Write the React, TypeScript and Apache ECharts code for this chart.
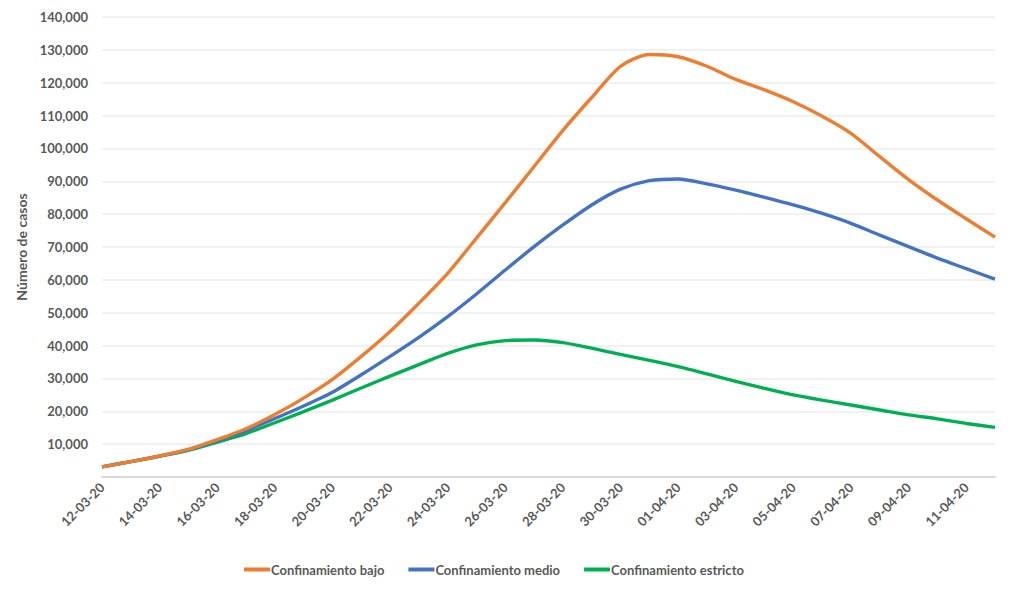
import React, { useEffect, useRef } from "react";
import * as echarts from "echarts";

const dates = [
  "12-03-20", "13-03-20", "14-03-20", "15-03-20", "16-03-20", "17-03-20", "18-03-20", "19-03-20",
  "20-03-20", "21-03-20", "22-03-20", "23-03-20", "24-03-20", "25-03-20", "26-03-20", "27-03-20",
  "28-03-20", "29-03-20", "30-03-20", "31-03-20", "01-04-20", "02-04-20", "03-04-20", "04-04-20",
  "05-04-20", "06-04-20", "07-04-20", "08-04-20", "09-04-20", "10-04-20", "11-04-20", "12-04-20",
];

const bajo = [
  3100, 4700, 6400, 8400, 11400, 14700, 19000, 24000, 29700, 36700, 44300, 52900, 62000, 72700, 83500, 94500,
  105500, 115500, 125000, 128600, 127900, 125000, 121000, 117800, 114200, 109800, 104600, 97500, 90500, 84300, 78600, 73000,
];

const medio = [
  3100, 4700, 6400, 8300, 11100, 14100, 17800, 21600, 25800, 31100, 36700, 42500, 48800, 55700, 63000, 70100,
  76700, 82800, 87600, 90200, 90700, 89200, 87300, 85100, 82800, 80200, 77200, 73600, 70100, 66600, 63400, 60200,
];

const estricto = [
  3100, 4700, 6300, 8100, 10600, 13200, 16500, 19900, 23400, 27100, 30700, 34200, 37600, 40200, 41500, 41700,
  40900, 39200, 37300, 35500, 33600, 31400, 29100, 27000, 25000, 23400, 21900, 20400, 18900, 17700, 16300, 15100,
];

const seriesNames = ["Confinamiento bajo", "Confinamiento medio", "Confinamiento estricto"];
const colors = ["#ED7D31", "#4472C4", "#00B050"];

const FONT = "Lato, 'Open Sans', sans-serif";
const TEXT = "#595959";

export default function App() {
  const ref = useRef<HTMLDivElement>(null);
  useEffect(() => {
    if (!ref.current) return;
    const chart = echarts.init(ref.current, null, { renderer: "svg" });
    const values = [bajo, medio, estricto];
    chart.setOption({
      animation: false,
      backgroundColor: "#ffffff",
      grid: { left: 102, right: 29, top: 17, bottom: 114, containLabel: false },
      legend: {
        left: 239,
        top: 558,
        icon: "rect",
        itemWidth: 26,
        itemHeight: 4,
        itemGap: 24,
        textStyle: { color: TEXT, fontFamily: FONT, fontWeight: "bold", fontSize: 13, padding: [0, 0, 0, -4] },
        data: seriesNames,
      },
      xAxis: {
        type: "category",
        data: dates,
        boundaryGap: false,
        axisLine: { show: true, lineStyle: { color: "#D9D9D9", width: 2 } },
        axisTick: { show: false },
        axisLabel: {
          interval: 1,
          rotate: 45,
          margin: 8,
          color: TEXT,
          fontFamily: FONT,
          fontWeight: "bold",
          fontSize: 13,
        },
      },
      yAxis: {
        type: "value",
        min: 0,
        max: 140000,
        interval: 10000,
        name: "Número de casos",
        nameLocation: "middle",
        nameGap: 70,
        nameTextStyle: { color: TEXT, fontFamily: FONT, fontWeight: "bold", fontSize: 14 },
        axisLine: { show: false },
        axisTick: { show: false },
        splitLine: { lineStyle: { color: "#EDEDED", width: 1.5 } },
        axisLabel: {
          margin: 14,
          color: TEXT,
          fontFamily: FONT,
          fontWeight: "bold",
          fontSize: 13,
          formatter: (v: number) => (v === 0 ? "" : v.toLocaleString("en-US")),
        },
      },
      series: seriesNames.map((name, i) => ({
        name,
        type: "line",
        data: values[i],
        symbol: "none",
        smooth: 0.25,
        color: colors[i],
        lineStyle: { color: colors[i], width: 3.4 },
        z: 3 - i,
      })),
    });
    return () => chart.dispose();
  }, []);
  return (
    <div
      ref={ref}
      style={{ position: "fixed", left: 0, top: 0, width: 1024, height: 591, background: "#fff" }}
    />
  );
}
